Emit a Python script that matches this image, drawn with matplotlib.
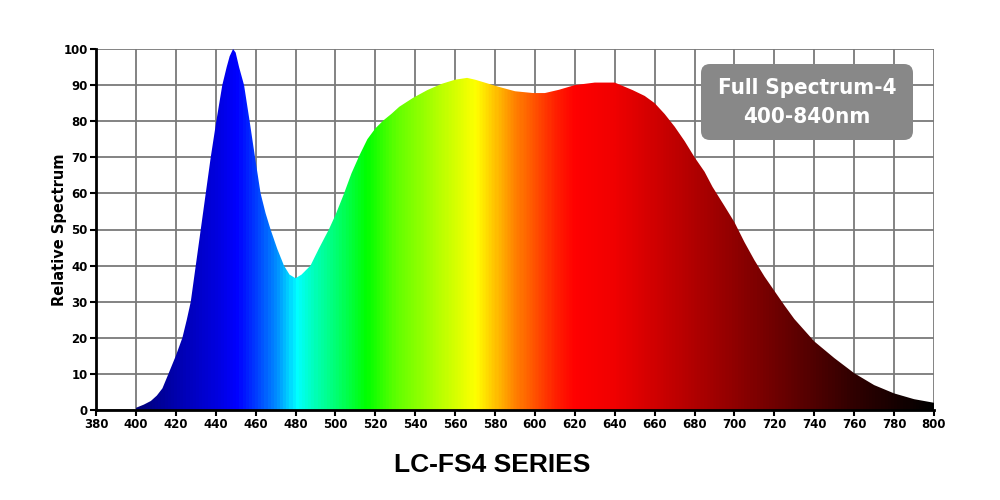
import matplotlib.pyplot as plt
import numpy as np
from matplotlib.colors import LinearSegmentedColormap
from matplotlib.patches import FancyBboxPatch

# spectrum (nm, relative %)
wavelength = [400, 404, 407.5, 410.5, 413.3, 416.3, 420, 423.3, 425.5, 427.5,
              430, 432.5, 435, 437.5, 440.3, 443.3, 445.5, 447, 448.7, 450,
              451.7, 454.2, 457, 459.7, 462.5, 465, 467.5, 470.8, 474.2, 477,
              480, 483, 487.5, 491.7, 496.7, 500, 504, 508, 512, 516,
              520, 524, 528, 532, 539, 546, 553, 560, 566, 570,
              576, 582, 590, 599, 605, 612, 620, 630, 640, 649,
              655, 660, 665, 670, 675, 680, 685, 689, 695, 700,
              705, 710, 715, 720, 725, 730, 740, 750, 760, 770,
              780, 790, 800]
relative = [0.6, 1.5, 2.5, 4, 6, 10, 15, 20, 25, 30,
            40, 50, 60, 70, 80, 90, 95, 98, 100, 99,
            95, 90, 80, 70, 60, 54.5, 50, 44.7, 40, 37.5,
            36.5, 37.5, 40, 44.7, 50, 54, 59.5, 65.5, 70.5, 75,
            78, 80.2, 82, 84, 86.5, 88.6, 90.3, 91.5, 92, 91.5,
            90.5, 89.5, 88.3, 87.8, 87.8, 88.7, 90, 90.7, 90.7, 88.6,
            87, 85, 82, 78.5, 74.5, 70, 66, 61.8, 56.5, 52,
            46.5, 41.5, 37, 33, 29, 25.2, 19, 14.4, 10.2, 6.9,
            4.6, 3, 2]

xticks = list(range(380, 801, 20))
yticks = list(range(0, 101, 10))

# colour stops of the fill (nm -> colour)
stop_nm = [400, 420, 440, 450, 460, 470, 480, 490, 500, 515, 530, 550,
           570, 580, 590, 600, 610, 620, 640, 660, 680, 700, 720, 740,
           760, 780, 800]
stop_col = ['#00007a', '#0000b0', '#0000e0', '#0000ff', '#0040ff', '#0090ff',
            '#00ffff', '#00ffb0', '#00ff70', '#00ff00', '#60ff00', '#b0ff00',
            '#ffff00', '#ffc000', '#ff8000', '#ff5000', '#ff2000', '#ff0000',
            '#f00000', '#d00000', '#b00000', '#900000', '#700000', '#500000',
            '#300000', '#180000', '#000000']

pos = [(n - 400) / 400 for n in stop_nm]
cmap = LinearSegmentedColormap.from_list('spec', list(zip(pos, stop_col)))

fig = plt.figure(figsize=(10, 5), dpi=100)
ax = fig.add_axes([0.096, 0.18, 0.838, 0.722])

ax.set_xlim(380, 800)
ax.set_ylim(0, 100)
ax.set_xticks(xticks)
ax.set_yticks(yticks)
ax.grid(True, color='#7a7a7a', linewidth=1.3)
ax.set_axisbelow(True)

poly = ax.fill_between(wavelength, relative, 0, color='none', lw=0)
grad = np.linspace(0, 1, 800).reshape(1, -1)
img = ax.imshow(grad, cmap=cmap, extent=[400, 800, 0, 100], aspect='auto',
                origin='lower', zorder=2)
img.set_clip_path(poly.get_paths()[0], transform=ax.transData)

for s in ['top', 'right']:
    ax.spines[s].set_visible(False)
for s in ['left', 'bottom']:
    ax.spines[s].set_linewidth(2)
    ax.spines[s].set_zorder(5)

ax.tick_params(axis='both', length=4, width=1.5, labelsize=8.5, pad=2)
for lab in ax.get_xticklabels() + ax.get_yticklabels():
    lab.set_fontweight('bold')

ax.set_ylabel('Relative Spectrum', fontsize=10.5, fontweight='bold', labelpad=-3)

# grey label box, in display pixels
box = FancyBboxPatch((701, 500 - 140), 212, 76,
                     boxstyle='round,pad=0,rounding_size=9',
                     transform=None, facecolor='#888888', edgecolor='none',
                     zorder=6)
fig.patches.append(box)
fig.text(0.807, 1 - 88 / 500, 'Full Spectrum-4', color='white', fontsize=16,
         fontweight='bold', fontstretch='condensed', family='DejaVu Sans',
         ha='center', va='center', zorder=7)
fig.text(0.807, 1 - 117 / 500, '400-840nm', color='white', fontsize=16,
         fontweight='bold', fontstretch='condensed', family='DejaVu Sans',
         ha='center', va='center', zorder=7)

fig.text(0.492, 1 - 465 / 500, 'LC-FS4 SERIES', fontsize=19, fontweight='bold',
         family=['Liberation Sans', 'DejaVu Sans'], ha='center', va='center')

fig.savefig('out.png', dpi=100, facecolor='white')
